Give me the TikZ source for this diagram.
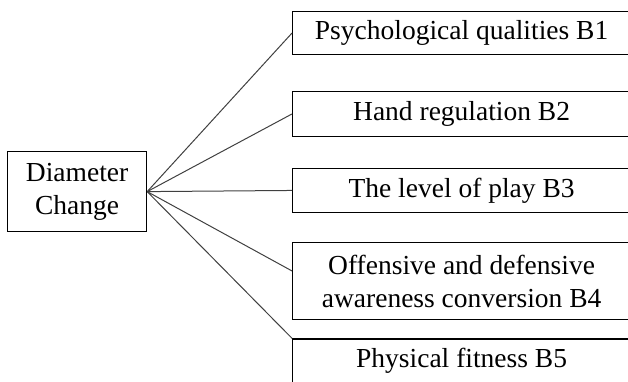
\documentclass[tikz,border=0pt]{standalone}
\usepackage{fontspec}
\setmainfont{Liberation Serif}
\usetikzlibrary{positioning}

\tikzset{
  box/.style={draw, line width=1.2pt, inner sep=0pt, align=center,
    font=\fontsize{27.5}{33}\selectfont},
  factor/.style={box, anchor=north west, minimum width=338pt},
  link/.style={draw=black!75, line width=1pt}
}

\begin{document}
\begin{tikzpicture}[x=1pt, y=-1pt]
  \useasboundingbox (0,0) rectangle (628,381);
  \clip (0,0) rectangle (628,381);

  % Define nodes
  \node[box, anchor=north west, minimum width=139pt, minimum height=80pt]
    (dc) at (7,151) {Diameter\\Change};
  \node[factor, minimum height=43.5pt] (b1) at (292,10.7) {Psychological qualities B1};
  \node[factor, minimum height=45.3pt] (b2) at (292,90.7) {Hand regulation B2};
  \node[factor, minimum height=44.3pt] (b3) at (292,167.7) {The level of play B3};
  \node[factor, minimum height=77.3pt] (b4) at (292,241.7) {Offensive and defensive\\awareness conversion B4};
  \node[factor, minimum height=44pt] (b5) at (292,338.3) {Physical fitness B5};

  % Connect the nodes
  \draw[link] (dc.east) -- (b1.west);
  \draw[link] (dc.east) -- (b2.west);
  \draw[link] (dc.east) -- (b3.west);
  \draw[link] (dc.east) -- ([yshift=10pt]b4.west);
  \draw[link] (dc.east) -- (b5.north west);

\end{tikzpicture}
\end{document}
